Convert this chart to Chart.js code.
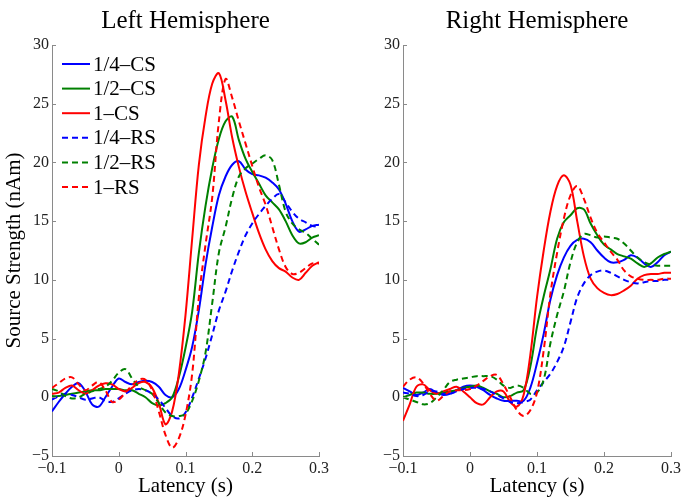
<!DOCTYPE html>
<html>
<head>
<meta charset="utf-8">
<script src="https://cdn.jsdelivr.net/npm/chart.js@4.4.1/dist/chart.umd.min.js"></script>
<style>
html, body { margin: 0; padding: 0; background: #ffffff; }
#wrap { position: relative; width: 685px; height: 499px; overflow: hidden; background: #fff; }
canvas { position: absolute; top: 0; }
</style>
</head>
<body>
<div id="wrap">
  <canvas id="leftChart" width="340" height="499" style="left:0px"></canvas>
  <canvas id="rightChart" width="345" height="499" style="left:340px"></canvas>
</div>
<script>
// ---------------- DATA ----------------
const latency = [-0.10, -0.09, -0.08, -0.07, -0.06, -0.05, -0.04, -0.03, -0.02, -0.01,
  0.00, 0.01, 0.02, 0.03, 0.04, 0.05, 0.06, 0.07, 0.08, 0.09,
  0.10, 0.11, 0.12, 0.13, 0.14, 0.15, 0.16, 0.17, 0.18, 0.19,
  0.20, 0.21, 0.22, 0.23, 0.24, 0.25, 0.26, 0.27, 0.28, 0.29, 0.30];

const seriesNames = ['1/4\u2013CS', '1/2\u2013CS', '1\u2013CS', '1/4\u2013RS', '1/2\u2013RS', '1\u2013RS'];
const panelTitles = ['Left Hemisphere', 'Right Hemisphere'];
const xTicks = [-0.1, 0, 0.1, 0.2, 0.3];
const yTicks = [-5, 0, 5, 10, 15, 20, 25, 30];

// Left hemisphere
const leftQuarterCS = [-1.2, -0.4, 0.3, 0.9, 1.2, 0.5, -0.6, -0.8, 0.0, 0.9,
  1.6, 1.3, 1.1, 1.3, 1.4, 1.3, 0.9, 0.2, 0.0, 0.7,
  2.3, 4.3, 7.4, 11.3, 14.5, 17.2, 18.8, 19.8, 20.1, 19.4,
  19.0, 18.9, 18.7, 18.3, 17.7, 16.5, 15.0, 14.1, 14.3, 14.6, 14.7];
const leftHalfCS = [0.1, 0.1, 0.2, 0.3, 0.4, 0.5, 0.6, 0.6, 0.7, 0.7,
  0.7, 0.6, 0.6, 0.3, 0.0, -0.5, -0.7, -0.5, 0.0, 1.7,
  4.2, 7.3, 12.3, 16.3, 19.5, 22.0, 23.5, 23.9, 21.9, 20.3,
  19.2, 18.2, 17.2, 16.6, 16.0, 15.0, 13.8, 13.1, 13.2, 13.6, 13.8];
const leftFullCS = [0.3, 0.4, 0.8, 1.0, 0.6, 0.3, 0.6, 1.0, 1.2, 1.1,
  0.7, 0.5, 0.8, 1.2, 1.3, 0.8, -0.5, -2.3, -1.2, 2.0,
  7.0, 13.5, 19.8, 23.9, 26.7, 27.6, 25.3, 22.1, 19.6, 17.5,
  15.7, 14.0, 12.6, 11.6, 11.0, 10.7, 10.2, 10.0, 10.6, 11.2, 11.5];
const leftQuarterRS = [-0.2, 0.1, 0.3, 0.2, 0.0, -0.2, -0.1, 0.0, -0.3, -0.4,
  -0.1, 0.3, 0.6, 0.7, 0.6, 0.3, -0.2, -0.9, -1.6, -1.8,
  -1.3, 0.0, 1.6, 3.3, 5.3, 7.4, 9.0, 10.8, 12.4, 13.8,
  14.8, 15.6, 16.3, 16.9, 17.3, 16.6, 15.8, 15.2, 14.9, 14.6, 14.5];
const leftHalfRS = [0.7, 0.5, 0.1, -0.1, 0.0, 0.3, 0.5, 0.7, 0.9, 1.4,
  2.1, 2.4, 1.6, 0.9, 0.6, 0.3, -0.5, -1.3, -1.6, -1.6,
  -1.4, -0.3, 1.4, 3.8, 8.0, 12.3, 14.5, 17.0, 18.8, 19.5,
  19.9, 20.3, 20.6, 20.2, 18.1, 15.8, 14.8, 14.3, 14.0, 13.5, 13.0];
const leftFullRS = [0.8, 1.2, 1.6, 1.7, 1.1, 0.6, 1.0, 1.3, 0.6, -0.4,
  -0.2, 0.4, 1.0, 1.5, 1.5, 0.6, -1.2, -3.2, -4.3, -3.5,
  -1.5, 2.0, 8.5, 13.0, 17.0, 23.5, 27.1, 25.5, 23.5, 21.6,
  19.7, 17.9, 16.4, 14.5, 12.6, 11.1, 10.5, 10.6, 11.0, 11.4, 11.4];

// Right hemisphere
const rightQuarterCS = [0.8, 0.5, 0.2, 0.4, 0.7, 0.4, 0.2, 0.3, 0.6, 0.9,
  1.0, 0.9, 0.6, 0.2, -0.1, -0.3, -0.3, -0.3, -0.3, 0.8,
  2.9, 5.4, 8.3, 10.4, 11.9, 12.9, 13.4, 13.5, 13.2, 12.5,
  11.9, 11.5, 11.5, 11.7, 12.1, 11.9, 11.4, 11.1, 11.5, 12.1, 12.4];
const rightHalfCS = [0.0, 0.2, 0.4, 0.4, 0.3, 0.3, 0.4, 0.5, 0.6, 0.8,
  0.9, 1.0, 0.8, 0.5, 0.3, 0.0, 0.1, 0.4, 0.6, 2.6,
  6.0, 8.6, 10.9, 13.5, 14.9, 15.5, 16.1, 16.0, 14.8, 13.8,
  13.0, 12.6, 12.2, 12.0, 11.8, 11.4, 11.1, 11.4, 11.9, 12.2, 12.4];
const rightFullCS = [-2.0, -0.6, 0.9, 1.1, 0.6, 0.3, 0.5, 0.7, 0.9, 0.5,
  0.0, -0.5, -0.6, 0.0, 0.5, 0.5, -0.4, -0.8, 0.2, 3.6,
  8.5, 12.5, 15.8, 18.0, 18.9, 18.1, 15.0, 12.0, 10.1, 9.3,
  8.9, 8.7, 8.8, 9.1, 9.5, 10.1, 10.4, 10.5, 10.5, 10.6, 10.6];
const rightQuarterRS = [0.4, 0.3, 0.1, 0.2, 0.5, 0.5, 0.3, 0.3, 0.5, 0.7,
  0.8, 0.8, 0.7, 0.5, 0.2, -0.1, -0.4, -0.5, -0.4, -0.2,
  0.6, 1.3, 2.0, 3.0, 4.3, 6.4, 8.5, 9.7, 10.4, 10.7,
  10.8, 10.6, 10.3, 10.0, 9.8, 9.7, 9.8, 9.9, 9.9, 10.0, 10.0];
const rightHalfRS = [0.0, -0.2, -0.4, -0.6, -0.5, 0.0, 0.6, 1.3, 1.5, 1.6,
  1.7, 1.8, 1.8, 1.8, 1.5, 1.0, 0.8, 1.0, 0.8, 0.3,
  0.4, 1.5, 4.6, 7.0, 9.0, 11.5, 13.2, 13.9, 13.8, 13.6,
  13.7, 13.6, 13.5, 13.1, 12.5, 11.9, 11.5, 11.3, 11.2, 11.2, 11.2];
const rightFullRS = [0.9, 1.5, 1.7, 1.2, 0.3, -0.3, 0.1, 0.5, 0.6, 0.6,
  0.7, 1.0, 1.4, 1.8, 1.9, 1.1, 0.0, -1.1, -1.6, -1.1,
  0.4, 4.0, 8.8, 12.3, 15.2, 17.2, 18.0, 16.9, 15.3, 14.0,
  13.2, 12.4, 11.7, 10.8, 10.3, 10.1, 10.0, 10.0, 10.0, 10.1, 10.1];

// ---------------- STYLE ----------------
const FONT = '"Liberation Serif", "Times New Roman", serif';
const AXIS_COLOR = '#8a8a8a';
const seriesColors = ['#0000ff', '#008000', '#ff0000', '#0000ff', '#008000', '#ff0000'];
const seriesDash = [[], [], [], [6, 4], [6, 4], [6, 4]];

Chart.defaults.font.family = FONT;
Chart.defaults.color = '#222';

function buildDatasets(seriesList) {
  return seriesList.map((vals, i) => ({
    label: seriesNames[i],
    data: latency.map((x, k) => ({ x: x, y: vals[k] })),
    borderColor: seriesColors[i],
    backgroundColor: seriesColors[i],
    borderWidth: 2,
    borderDash: seriesDash[i],
    pointRadius: 0,
    fill: false,
    tension: 0.35,
    order: seriesList.length - i
  }));
}

function fmt(v) {
  const r = Math.round(v * 10) / 10;
  if (r === 0) return '0';
  return r < 0 ? '\u2212' + String(Math.abs(r)) : String(r);
}

const inwardTicks = {
  id: 'inwardTicks',
  afterDatasetsDraw(chart) {
    const { ctx, chartArea: a, scales } = chart;
    ctx.save();
    ctx.strokeStyle = AXIS_COLOR;
    ctx.lineWidth = 1;
    ctx.setLineDash([]);
    ctx.beginPath();
    scales.x.ticks.forEach(t => {
      const px = Math.round(scales.x.getPixelForValue(t.value)) + 0.5;
      ctx.moveTo(px, a.bottom);
      ctx.lineTo(px, a.bottom - 4);
    });
    scales.y.ticks.forEach(t => {
      const py = Math.round(scales.y.getPixelForValue(t.value)) + 0.5;
      ctx.moveTo(a.left, py);
      ctx.lineTo(a.left + 4, py);
    });
    ctx.stroke();
    ctx.restore();
  }
};

const lineLegend = {
  id: 'lineLegend',
  afterDraw(chart, args, opts) {
    if (!opts || !opts.show) return;
    const { ctx, chartArea: a } = chart;
    ctx.save();
    chart.data.datasets.forEach((ds, i) => {
      const y = a.top + 19 + i * 24.6;
      const x0 = a.left + 10;
      ctx.strokeStyle = ds.borderColor;
      ctx.lineWidth = ds.borderWidth;
      ctx.setLineDash(ds.borderDash || []);
      ctx.beginPath();
      ctx.moveTo(x0, y);
      ctx.lineTo(x0 + 28, y);
      ctx.stroke();
      ctx.setLineDash([]);
      ctx.fillStyle = '#000';
      ctx.font = '21px ' + FONT;
      ctx.textBaseline = 'middle';
      ctx.textAlign = 'left';
      ctx.fillText(ds.label, x0 + 31, y + 1);
    });
    ctx.restore();
  }
};

function makeChart(canvasId, title, seriesList, opts) {
  return new Chart(document.getElementById(canvasId), {
    type: 'line',
    data: { datasets: buildDatasets(seriesList) },
    options: {
      responsive: false,
      animation: false,
      devicePixelRatio: 1,
      layout: { padding: { left: 0, right: opts.rightPad, top: 0, bottom: 0 } },
      plugins: {
        legend: { display: false },
        tooltip: { enabled: false },
        title: {
          display: true,
          text: title,
          fullSize: false,
          color: '#000',
          font: { size: 25, weight: 'normal', family: FONT },
          padding: { top: 6, bottom: 9 }
        },
        lineLegend: { show: opts.legend }
      },
      scales: {
        x: {
          type: 'linear',
          min: -0.1,
          max: 0.3,
          afterBuildTicks: s => { s.ticks = xTicks.map(v => ({ value: v })); },
          afterFit: s => { s.height = 43; },
          ticks: {
            callback: v => fmt(v),
            font: { size: 16, family: FONT },
            color: '#222',
            padding: 3,
            maxRotation: 0,
            autoSkip: false
          },
          grid: { display: false, drawTicks: false },
          border: { display: true, color: AXIS_COLOR, width: 1 },
          title: {
            display: true,
            text: 'Latency (s)',
            color: '#000',
            font: { size: 21, family: FONT },
            padding: { top: 0, bottom: 0 }
          }
        },
        y: {
          type: 'linear',
          min: -5,
          max: 30,
          afterBuildTicks: s => { s.ticks = yTicks.map(v => ({ value: v })); },
          afterFit: s => { s.width = opts.yWidth; },
          ticks: {
            callback: v => fmt(v),
            font: { size: 16, family: FONT },
            color: '#222',
            padding: 3,
            autoSkip: false
          },
          grid: { display: false, drawTicks: false },
          border: { display: true, color: AXIS_COLOR, width: 1 },
          title: {
            display: opts.yTitle,
            text: 'Source Strength (nAm)',
            color: '#000',
            font: { size: 21, family: FONT },
            padding: { top: 2, bottom: 0 }
          }
        }
      }
    },
    plugins: [inwardTicks, lineLegend]
  });
}

makeChart('leftChart', panelTitles[0],
  [leftQuarterCS, leftHalfCS, leftFullCS, leftQuarterRS, leftHalfRS, leftFullRS],
  { rightPad: 21, yWidth: 52, yTitle: true, legend: true });
makeChart('rightChart', panelTitles[1],
  [rightQuarterCS, rightHalfCS, rightFullCS, rightQuarterRS, rightHalfRS, rightFullRS],
  { rightPad: 14, yWidth: 63, yTitle: false, legend: false });
</script>
</body>
</html>
